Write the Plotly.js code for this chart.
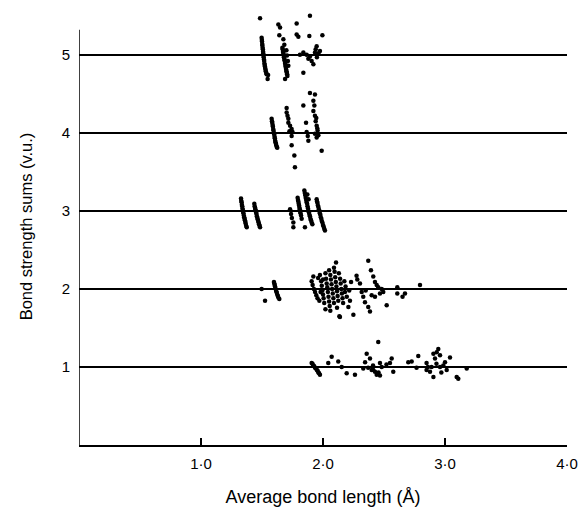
<!DOCTYPE html>
<html>
<head>
<meta charset="utf-8">
<script src="https://cdn.plot.ly/plotly-3.0.1.min.js"></script>
<style>html,body{margin:0;padding:0;background:#fff;}#chart{width:579px;height:513px;}</style>
</head>
<body>
<div id="chart"></div>
<script>
// Band 5 (bond strength sums near 5 v.u.)
const length5 = [1.484,1.497,1.499,1.500,1.502,1.503,1.505,1.507,1.509,1.510,1.512,1.514,1.516,1.518,1.520,1.522,1.524,1.526,1.529,1.531,1.534,1.538,1.546,1.550,
  1.634,1.648,1.642,1.675,1.683,1.667,1.670,1.672,1.674,1.676,1.678,1.680,1.683,1.685,1.688,1.690,1.692,1.694,1.696,1.698,1.701,1.703,1.706,1.708,1.689,1.700,1.705,1.712,1.716,
  1.784,1.784,1.798,1.893,1.888,1.995,1.948,1.940,1.811,1.839,1.866,1.893,1.907,1.921,1.934,1.962,1.975,1.880,1.839,1.950];
const sum5 = [5.47,5.22,5.19,5.17,5.14,5.12,5.09,5.07,5.04,5.02,4.99,4.97,4.94,4.92,4.89,4.87,4.85,4.83,4.81,4.79,4.77,4.75,4.69,4.74,
  5.39,5.35,5.25,5.20,5.13,5.09,5.07,5.05,5.03,5.01,4.99,4.97,4.95,4.93,4.91,4.89,4.87,4.85,4.83,4.81,4.79,4.77,4.75,4.73,4.69,5.06,4.99,4.92,4.86,
  5.40,5.26,5.23,5.50,5.24,5.25,5.11,5.07,5.00,5.03,5.00,4.98,4.92,4.88,5.03,5.02,5.05,4.95,4.77,4.97];

// Band 4
const length4 = [1.579,1.582,1.584,1.587,1.589,1.592,1.594,1.597,1.600,1.603,1.605,1.608,1.611,1.614,1.617,1.621,1.625,
  1.702,1.702,1.709,1.716,1.716,1.730,1.743,1.750,1.743,1.743,1.765,1.770,1.725,
  1.839,1.861,1.866,1.880,1.875,
  1.893,1.934,1.921,1.929,1.921,1.934,1.940,1.948,1.956,1.934,1.948,1.962,1.989,1.945,1.953];
const sum4 = [4.18,4.15,4.13,4.10,4.08,4.05,4.03,4.00,3.98,3.95,3.93,3.90,3.88,3.86,3.84,3.82,3.81,
  4.32,4.26,4.22,4.18,4.13,4.09,4.05,4.01,3.96,3.84,3.71,3.56,4.02,
  4.35,4.13,4.01,3.90,3.96,
  4.51,4.49,4.41,4.35,4.28,4.22,4.15,4.09,4.03,3.99,3.94,3.97,3.77,4.19,4.06];

// Band 3
const length3 = [1.328,1.330,1.333,1.335,1.338,1.340,1.343,1.345,1.348,1.351,1.354,1.357,1.360,1.363,1.366,1.370,1.375,
  1.437,1.440,1.443,1.446,1.449,1.452,1.455,1.458,1.462,1.465,1.469,1.472,1.476,1.480,1.484,
  1.730,1.738,1.745,1.757,1.757,
  1.792,1.795,1.798,1.801,1.804,1.807,1.810,1.813,1.816,1.820,1.825,1.852,
  1.847,1.851,1.855,1.858,1.862,1.866,1.870,1.873,1.877,1.881,1.885,1.889,1.893,1.897,1.902,1.907,1.913,1.872,1.882,
  1.948,1.951,1.955,1.958,1.962,1.966,1.970,1.974,1.978,1.982,1.986,1.990,1.995,2.000,2.005,2.010,2.016];
const sum3 = [3.16,3.13,3.11,3.08,3.06,3.03,3.01,2.99,2.97,2.94,2.92,2.90,2.88,2.86,2.84,2.81,2.79,
  3.09,3.06,3.04,3.02,3.00,2.98,2.96,2.93,2.91,2.89,2.87,2.85,2.83,2.81,2.79,
  3.02,2.96,2.91,2.85,2.79,
  3.17,3.14,3.12,3.09,3.07,3.04,3.02,2.99,2.97,2.94,2.90,2.79,
  3.26,3.23,3.20,3.17,3.14,3.11,3.09,3.06,3.03,3.00,2.98,2.95,2.93,2.90,2.88,2.85,2.83,3.21,3.15,
  3.15,3.12,3.10,3.07,3.05,3.02,3.00,2.97,2.95,2.92,2.90,2.87,2.85,2.82,2.80,2.77,2.75];

// Band 2
const length2 = [1.497,1.525,1.598,1.601,1.604,1.607,1.610,1.614,1.617,1.621,1.625,1.630,1.634,1.642,
  1.921,1.907,1.915,1.925,1.935,1.945,1.955,1.970,1.960,1.975,1.985,1.990,1.995,2.000,2.005,2.010,
  2.020,2.025,2.030,2.035,2.040,2.045,2.050,2.055,2.050,2.060,2.065,2.070,2.075,2.080,2.085,2.090,
  2.107,2.095,2.100,2.105,2.110,2.115,2.120,2.125,2.115,2.134,2.139,2.130,2.140,2.145,2.150,2.155,
  2.160,2.165,2.175,2.180,2.185,2.195,2.208,2.221,2.230,2.249,2.215,2.060,2.020,1.980,2.000,2.090,
  2.275,2.281,2.303,2.317,2.330,2.344,2.371,2.385,2.371,2.393,2.412,2.426,2.453,2.481,2.494,2.467,
  2.426,2.399,2.522,2.609,2.609,2.652,2.672,2.795,2.440,2.350];
const sum2 = [2.00,1.85,2.09,2.07,2.05,2.03,2.01,1.99,1.97,1.95,1.93,1.91,1.89,1.87,
  2.16,2.10,2.05,2.00,1.96,1.92,1.88,1.85,2.14,2.18,2.10,2.04,1.98,1.93,1.88,1.82,
  2.20,2.13,2.07,2.02,1.96,1.90,1.84,1.78,2.24,2.18,2.12,2.06,2.00,1.94,1.88,1.82,
  2.34,2.22,2.15,2.09,2.03,1.97,1.91,1.85,1.76,1.65,1.64,2.20,2.13,2.07,2.00,1.94,
  1.88,1.82,2.10,1.96,2.03,1.90,1.77,1.85,2.09,1.67,1.98,1.72,1.74,1.96,2.12,2.27,
  2.17,2.12,2.07,1.96,1.90,1.83,1.77,1.71,2.36,2.24,2.16,2.09,2.02,2.00,1.96,1.94,
  1.90,1.92,1.79,2.02,1.94,1.90,1.94,2.05,2.05,1.98];

// Band 1
const length1 = [1.907,1.914,1.921,1.928,1.935,1.942,1.950,1.956,1.962,1.968,1.975,2.071,2.043,2.125,2.153,2.194,2.262,
  2.358,2.385,2.345,2.453,2.330,2.370,2.399,2.426,2.440,2.455,2.481,2.467,2.410,2.412,2.467,
  2.563,2.549,2.520,2.576,2.699,2.727,2.781,2.767,
  2.849,2.860,2.877,2.905,2.918,2.932,2.945,2.905,2.959,2.890,2.849,2.959,3.014,3.041,
  3.096,3.109,3.178,2.986,3.000,2.930,2.970];
const sum1 = [1.05,1.04,1.02,1.01,0.99,0.98,0.96,0.95,0.93,0.92,0.90,1.13,1.05,1.07,1.00,0.92,0.90,
  1.17,1.11,1.06,1.32,0.98,0.99,0.96,0.94,0.90,0.93,1.00,1.05,1.02,0.96,0.89,
  1.11,1.05,1.03,0.94,1.06,1.07,1.14,0.99,
  1.05,1.00,0.94,0.87,1.11,1.19,1.23,1.17,1.15,1.00,0.96,1.00,0.96,1.12,
  0.87,0.85,0.98,1.02,1.06,1.04,0.93];

const xTickVals = [1, 2, 3, 4];
const xTickText = ['1·0', '2·0', '3·0', '4·0'];
const yTickVals = [1, 2, 3, 4, 5];
const yTickText = ['1', '2', '3', '4', '5'];
const yAxisTop = 5.32;   // where the drawn vertical axis line ends

const bands = [[length5, sum5], [length4, sum4], [length3, sum3], [length2, sum2], [length1, sum1]];
const traces = bands.map(b => ({
  x: b[0], y: b[1], type: 'scatter', mode: 'markers',
  marker: {color: '#000', size: 4.5}, hoverinfo: 'skip', showlegend: false
}));

const layout = {
  width: 579, height: 513,
  margin: {l: 79, r: 12, t: 8, b: 68},
  paper_bgcolor: '#fff', plot_bgcolor: '#fff',
  font: {family: 'Liberation Sans, Arial, sans-serif', color: '#000', size: 14},
  showlegend: false,
  xaxis: {
    range: [0, 4], showline: true, linecolor: '#000', linewidth: 1.5,
    showgrid: false, zeroline: false,
    ticks: 'inside', ticklen: 7, tickwidth: 1.5, tickcolor: '#000',
    tickvals: xTickVals, ticktext: xTickText, ticklabelstandoff: 4,
    tickfont: {size: 15},
    title: {text: 'Average bond length (Å)', font: {size: 18}, standoff: 20}
  },
  yaxis: {
    range: [0, 5.6], showline: false,
    showgrid: true, gridcolor: '#000', gridwidth: 1.5, zeroline: false,
    ticks: '', tickvals: yTickVals, ticktext: yTickText, ticklabelstandoff: 8,
    tickfont: {size: 15},
    title: {text: 'Bond strength sums (v.u.)', font: {size: 16.5}, standoff: 24}
  },
  shapes: [{
    type: 'line', xref: 'x', yref: 'y', x0: 0, x1: 0, y0: 0, y1: yAxisTop,
    line: {color: '#000', width: 1.5}
  }]
};

Plotly.newPlot('chart', traces, layout, {displayModeBar: false, staticPlot: true});
</script>
</body>
</html>
